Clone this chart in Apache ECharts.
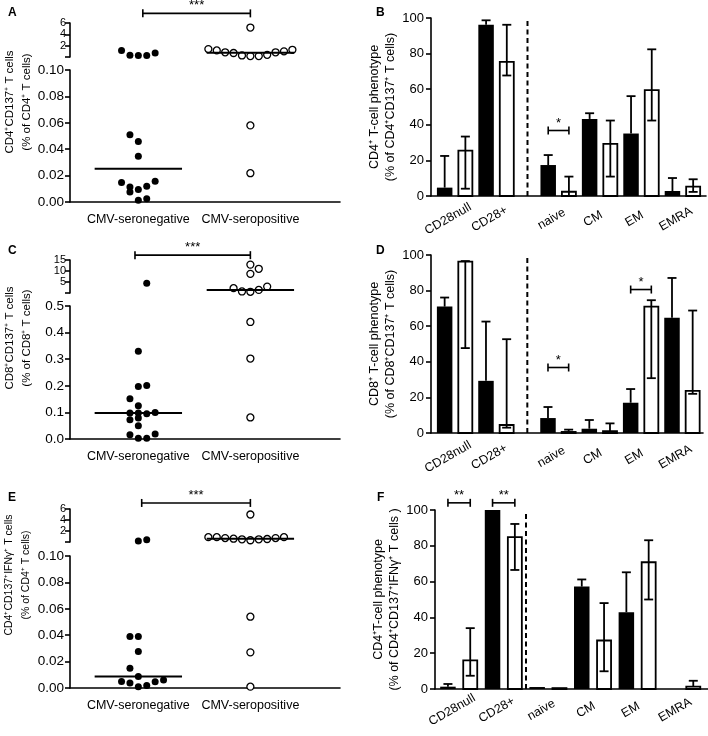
<!DOCTYPE html>
<html>
<head>
<meta charset="utf-8">
<script src="https://cdn.jsdelivr.net/npm/echarts@6/dist/echarts.min.js"></script>
<style>
html, body { margin: 0; padding: 0; background: #fff; }
#chart { width: 708px; height: 736px; }
</style>
</head>
<body>
<div id="chart"></div>
<script>
// ---- scatter panels (A, C, E): values in % of parent cells, jitter = dot slot left/right of the group centre
const groups = ['CMV-seronegative', 'CMV-seropositive']

const aNeg = [1.16, 0.32, 0.27, 0.27, 0.71, 0.0509, 0.0458, 0.0347, 0.0147, 0.0114, 0.0076, 0.0094, 0.0119, 0.0157, 0.0013, 0.0025]
const aNegJit = [-2, -1, 0, 1, 2, -1, 0, 0, -2, -1, -1, 0, 1, 2, 0, 1]
const aPos = [5.2, 1.4, 1.16, 0.83, 0.71, 0.27, 0.16, 0.16, 0.38, 0.83, 1.0, 1.27, 0.058, 0.0218]
const aPosJit = [0, -5, -4, -3, -2, -1, 0, 1, 2, 3, 4, 5, 0, 0]

const cNeg = [4.4, 0.33, 0.1975, 0.201, 0.151, 0.125, 0.0975, 0.0975, 0.095, 0.1, 0.0725, 0.079, 0.05, 0.016, 0.019, 0.0025, 0.0025]
const cNegJit = [1, 0, 0, 1, -1, 0, -1, 0, 1, 2, -1, 0, 0, -1, 2, 0, 1]
const cPos = [12.9, 11, 8.7, 2.2, 0.7, 0.55, 1.4, 2.9, 0.44, 0.3025, 0.081]
const cPosJit = [0, 1, 0, -2, -1, 0, 1, 2, 0, 0, 0]

const eNeg = [0.16, 0.43, 0.039, 0.039, 0.0277, 0.0149, 0.0088, 0.005, 0.0038, 0.001, 0.0018, 0.0048, 0.006]
const eNegJit = [0, 1, -1, 0, 0, -1, 0, -2, -1, 0, 1, 2, 3]
const ePos = [5.0, 0.88, 0.88, 0.71, 0.6, 0.49, 0.32, 0.49, 0.55, 0.71, 0.88, 0.054, 0.027, 0.001]
const ePosJit = [0, -5, -4, -3, -2, -1, 0, 1, 2, 3, 4, 0, 0, 0]

// ---- phenotype bar panels (B, D, F): black = seronegative, white = seropositive
const phenotypes = ['CD28null', 'CD28+', 'naive', 'CM', 'EM', 'EMRA']
const slotsSplit = [0, 1, 2.5, 3.5, 4.5, 5.5]
const slotsEven = [0, 1, 2, 3, 4, 5]

const bNeg = [4.7, 96.2, 17.4, 43.3, 35.1, 2.8]
const bNegHigh = [22.5, 98.7, 23, 46.5, 56.1, 10.1]
const bPos = [25.5, 75.4, 2.4, 29.3, 59.5, 5.3]
const bPosLow = [4.1, 67.7, 0, 10.9, 42.4, 2.3]
const bPosHigh = [33.4, 96.2, 10.9, 42.4, 82.4, 9.4]

const dNeg = [71, 29.3, 8.4, 2.4, 17, 64.7]
const dNegHigh = [76.1, 62.6, 14.6, 7.3, 24.7, 87.1]
const dPos = [96.3, 4.5, 0.6, 1.1, 71, 23.7]
const dPosLow = [47.7, 3, 0.6, 1.1, 30.8, 22]
const dPosHigh = [96.6, 52.7, 1.9, 5.4, 74.6, 68.8]

const fNeg = [1.3, 100, 1.1, 57.2, 42.9, 0]
const fNegHigh = [2.8, 100, 1.1, 61.2, 65.2, 0]
const fPos = [16, 84.8, 0.5, 27.1, 70.8, 1.3]
const fPosLow = [7.4, 66.5, 0.5, 9.9, 50, 1.3]
const fPosHigh = [34, 92.2, 0.5, 48, 83.1, 4.6]

const FONT = 'Liberation Sans, Arial, Helvetica, sans-serif'
const INK = '#000'
const JIT = 0.075

const grids = []
const xAxes = []
const yAxes = []
const series = []

const axisLine = { show: true, onZero: false, lineStyle: { color: INK, width: 1.6 } }
const tick = { show: true, length: 5, lineStyle: { color: INK, width: 1.6 } }

function median(arr) {
  const s = [...arr].sort((a, b) => a - b)
  const m = Math.floor(s.length / 2)
  return s.length % 2 ? s[m] : (s[m - 1] + s[m]) / 2
}

function addGrid(box) {
  grids.push({ ...box, containLabel: false })
  return grids.length - 1
}

function lineEl(x1, y1, x2, y2, w) {
  return { type: 'line', shape: { x1, y1, x2, y2 }, style: { stroke: INK, lineWidth: w || 1.8 } }
}

function bracketSeries(g, list) {
  series.push({
    type: 'custom', xAxisIndex: g, yAxisIndex: g, clip: false, silent: true, z: 5,
    data: list.map(b => [b.from, b.to, b.level]),
    renderItem(params, api) {
      const a = api.coord([api.value(0), api.value(2)])
      const b = api.coord([api.value(1), api.value(2)])
      const label = list[params.dataIndex].label
      return {
        type: 'group',
        children: [
          lineEl(a[0], a[1], b[0], b[1], 1.6),
          lineEl(a[0], a[1] - 4, a[0], a[1] + 4, 1.6),
          lineEl(b[0], b[1] - 4, b[0], b[1] + 4, 1.6),
          {
            type: 'text', x: (a[0] + b[0]) / 2, y: a[1] - 1,
            style: { text: label, fill: INK, font: '13px ' + FONT, align: 'center', verticalAlign: 'bottom', textAlign: 'center', textVerticalAlign: 'bottom' }
          }
        ]
      }
    }
  })
}

function scatterPanel(p) {
  const gUp = addGrid({ left: 70, width: 270, top: p.upTop, height: p.upH })
  const gLo = addGrid({ left: 70, width: 270, top: p.loTop, height: p.loH })
  const gName = addGrid({ left: 70, width: 270, top: p.nameTop, height: p.nameH })
  const xBase = { type: 'value', min: 0.39, max: 2.8, splitLine: { show: false } }

  xAxes.push({ ...xBase, gridIndex: gUp, show: false })
  xAxes.push({
    ...xBase, gridIndex: gLo, axisLine, axisTick: { show: false },
    axisLabel: { customValues: [1, 2], formatter: v => groups[Math.round(v) - 1], color: INK, fontFamily: FONT, fontSize: 12.5, margin: 11 }
  })
  xAxes.push({ ...xBase, gridIndex: gName, show: false })

  yAxes.push({
    type: 'value', gridIndex: gUp, min: 0, max: p.upMax, interval: p.upStep,
    axisLine, axisTick: tick, splitLine: { show: false },
    axisLabel: { formatter: v => (v === 0 ? '' : String(v)), color: INK, fontFamily: FONT, fontSize: 11, margin: 4, lineHeight: 11 }
  })
  yAxes.push({
    type: 'value', gridIndex: gLo, min: 0, max: p.loMax, interval: p.loStep,
    axisLine, axisTick: tick, splitLine: { show: false },
    axisLabel: { formatter: v => v.toFixed(p.digits), color: INK, fontFamily: FONT, fontSize: 13.5, margin: 6 }
  })
  yAxes.push({
    type: 'value', gridIndex: gName, axisLine: { show: false }, axisTick: { show: false },
    axisLabel: { show: false }, splitLine: { show: false },
    name: p.title, nameLocation: 'middle', nameGap: 36,
    nameTextStyle: { color: INK, fontFamily: FONT, fontSize: p.titleSize, lineHeight: 17 }
  })

  const sets = [
    { g: 1, vals: p.neg, jit: p.negJit, style: { color: INK, opacity: 1 } },
    { g: 2, vals: p.pos, jit: p.posJit, style: { color: '#fff', borderColor: INK, borderWidth: 1.3, opacity: 1 } }
  ]
  sets.forEach(s => {
    const pts = s.vals.map((v, i) => [s.g + s.jit[i] * JIT, v])
    ;[[gLo, pts.filter(d => d[1] <= p.loMax)], [gUp, pts.filter(d => d[1] > p.loMax)]].forEach(([g, data]) => {
      series.push({
        type: 'scatter', xAxisIndex: g, yAxisIndex: g, data, symbol: 'circle', symbolSize: 7,
        itemStyle: s.style, z: 3, silent: true
      })
    })
    const m = median(s.vals)
    const g = m > p.loMax ? gUp : gLo
    series.push({
      type: 'custom', xAxisIndex: g, yAxisIndex: g, clip: false, silent: true, z: 4,
      data: [[s.g, m]],
      renderItem(params, api) {
        const a = api.coord([api.value(0) - 0.39, api.value(1)])
        const b = api.coord([api.value(0) + 0.39, api.value(1)])
        return lineEl(a[0], a[1], b[0], b[1], 2)
      }
    })
  })

  bracketSeries(gUp, [{ from: p.bracketFrom, to: 2, level: p.bracketLevel, label: '***' }])
}

function barRenderer(fill) {
  return function (params, api) {
    const x = api.value(0)
    const v = api.value(1)
    const lo = api.value(2)
    const hi = api.value(3)
    const base = api.coord([x, 0])
    const top = api.coord([x, v])
    const pHi = api.coord([x, hi])
    const pLo = api.coord([x, lo])
    const white = fill !== INK
    const w = white ? 14 : 15.5
    const kids = []
    if (base[1] - top[1] > 0.4) {
      kids.push({
        type: 'rect',
        shape: { x: base[0] - w / 2, y: top[1], width: w, height: base[1] - top[1] },
        style: white ? { fill, stroke: INK, lineWidth: 1.8 } : { fill }
      })
    }
    if (hi - v > 0.2) {
      kids.push(lineEl(top[0], top[1], pHi[0], pHi[1]))
      kids.push(lineEl(pHi[0] - 4.5, pHi[1], pHi[0] + 4.5, pHi[1]))
    }
    if (v - lo > 0.2) {
      kids.push(lineEl(top[0], top[1], pLo[0], pLo[1]))
      kids.push(lineEl(pLo[0] - 4.5, pLo[1], pLo[0] + 4.5, pLo[1]))
    }
    return { type: 'group', children: kids }
  }
}

function barPanel(p) {
  const g = addGrid(p.box)
  xAxes.push({
    type: 'value', gridIndex: g, min: p.xMin, max: p.xMax, axisLine, axisTick: { show: false }, splitLine: { show: false },
    axisLabel: {
      customValues: p.slots, formatter: v => phenotypes[p.slots.indexOf(v)],
      rotate: 30, align: 'center', verticalAlign: 'middle', padding: [0, 16, 0, 0],
      color: INK, fontFamily: FONT, fontSize: 12.5, margin: p.labelMargin
    }
  })
  yAxes.push({
    type: 'value', gridIndex: g, min: 0, max: 100, interval: 20,
    axisLine, axisTick: tick, splitLine: { show: false },
    axisLabel: { color: INK, fontFamily: FONT, fontSize: 13, margin: 7 },
    name: p.title, nameLocation: 'middle', nameGap: 27,
    nameTextStyle: { color: INK, fontFamily: FONT, fontSize: 12.5, lineHeight: 16 }
  })

  series.push({
    type: 'custom', xAxisIndex: g, yAxisIndex: g, clip: false, silent: true, z: 3,
    data: p.slots.map((s, i) => [s - 0.25, p.neg[i], p.neg[i], p.negHigh[i]]),
    renderItem: barRenderer(INK)
  })
  series.push({
    type: 'custom', xAxisIndex: g, yAxisIndex: g, clip: false, silent: true, z: 3,
    data: p.slots.map((s, i) => [s + 0.25, p.pos[i], p.posLow[i], p.posHigh[i]]),
    renderItem: barRenderer('#fff')
  })
  // dashed separator between CD28 subsets and memory subsets
  series.push({
    type: 'custom', xAxisIndex: g, yAxisIndex: g, clip: false, silent: true, z: 2,
    data: [[(p.slots[1] + p.slots[2]) / 2, 0]],
    renderItem(params, api) {
      const a = api.coord([api.value(0), 0])
      const b = api.coord([api.value(0), 100])
      return { type: 'line', shape: { x1: a[0], y1: a[1], x2: b[0], y2: b[1] + 2 }, style: { stroke: INK, lineWidth: 2, lineDash: [5, 3.5] } }
    }
  })
  bracketSeries(g, p.brackets.map(b => {
    const s = p.slots[phenotypes.indexOf(b.cat)]
    return { from: s - 0.25, to: s + 0.25, level: b.level, label: b.label }
  }))
}

scatterPanel({
  upTop: 23, upH: 34, loTop: 70, loH: 132, nameTop: 23, nameH: 158, titleSize: 11.5,
  upMax: 6, upStep: 2, loMax: 0.1, loStep: 0.02, digits: 2,
  title: 'CD4⁺CD137⁺ T cells\n(% of CD4⁺ T cells)',
  neg: aNeg, negJit: aNegJit, pos: aPos, posJit: aPosJit,
  bracketFrom: 1.04, bracketLevel: 7.7
})
scatterPanel({
  upTop: 260, upH: 33, loTop: 306, loH: 133, nameTop: 260, nameH: 156, titleSize: 11.5,
  upMax: 15, upStep: 5, loMax: 0.5, loStep: 0.1, digits: 1,
  title: 'CD8⁺CD137⁺ T cells\n(% of CD8⁺ T cells)',
  neg: cNeg, negJit: cNegJit, pos: cPos, posJit: cPosJit,
  bracketFrom: 0.97, bracketLevel: 17.2
})
scatterPanel({
  upTop: 509, upH: 33, loTop: 556, loH: 132, nameTop: 509, nameH: 132, titleSize: 10.5,
  upMax: 6, upStep: 2, loMax: 0.1, loStep: 0.02, digits: 2,
  title: 'CD4⁺CD137⁺IFNγ⁺ T cells\n(% of CD4⁺ T cells)',
  neg: eNeg, negJit: eNegJit, pos: ePos, posJit: ePosJit,
  bracketFrom: 1.03, bracketLevel: 7.1
})

barPanel({
  box: { left: 431, top: 18, width: 275, height: 178 },
  slots: slotsSplit, xMin: -0.58, xMax: 6.06, labelMargin: 19,
  title: 'CD4⁺ T-cell phenotype\n(% of CD4⁺CD137⁺ T cells)',
  neg: bNeg, negHigh: bNegHigh, pos: bPos, posLow: bPosLow, posHigh: bPosHigh,
  brackets: [{ cat: 'naive', level: 36.8, label: '*' }]
})
barPanel({
  box: { left: 431, top: 255, width: 272, height: 178 },
  slots: slotsSplit, xMin: -0.58, xMax: 6.0, labelMargin: 20,
  title: 'CD8⁺ T-cell phenotype\n(% of CD8⁺CD137⁺ T cells)',
  neg: dNeg, negHigh: dNegHigh, pos: dPos, posLow: dPosLow, posHigh: dPosHigh,
  brackets: [{ cat: 'naive', level: 36.8, label: '*' }, { cat: 'EM', level: 80.6, label: '*' }]
})
barPanel({
  box: { left: 435, top: 510, width: 273, height: 179 },
  slots: slotsEven, xMin: -0.54, xMax: 5.58, labelMargin: 17,
  title: 'CD4⁺T-cell phenotype\n(% of CD4⁺CD137⁺IFNγ⁺ T cells )',
  neg: fNeg, negHigh: fNegHigh, pos: fPos, posLow: fPosLow, posHigh: fPosHigh,
  brackets: [{ cat: 'CD28null', level: 104, label: '**' }, { cat: 'CD28+', level: 104, label: '**' }]
})

const letter = (text, left, top) => ({ text, left, top, textStyle: { fontFamily: FONT, fontSize: 12, fontWeight: 'bold', color: INK } })

const chart = echarts.init(document.getElementById('chart'))
chart.setOption({
  animation: false,
  backgroundColor: '#fff',
  title: [letter('A', 3, 2), letter('B', 371, 2), letter('C', 3, 240), letter('D', 371, 240), letter('E', 3, 487), letter('F', 372, 487)],
  grid: grids,
  xAxis: xAxes,
  yAxis: yAxes,
  series
})
</script>
</body>
</html>
